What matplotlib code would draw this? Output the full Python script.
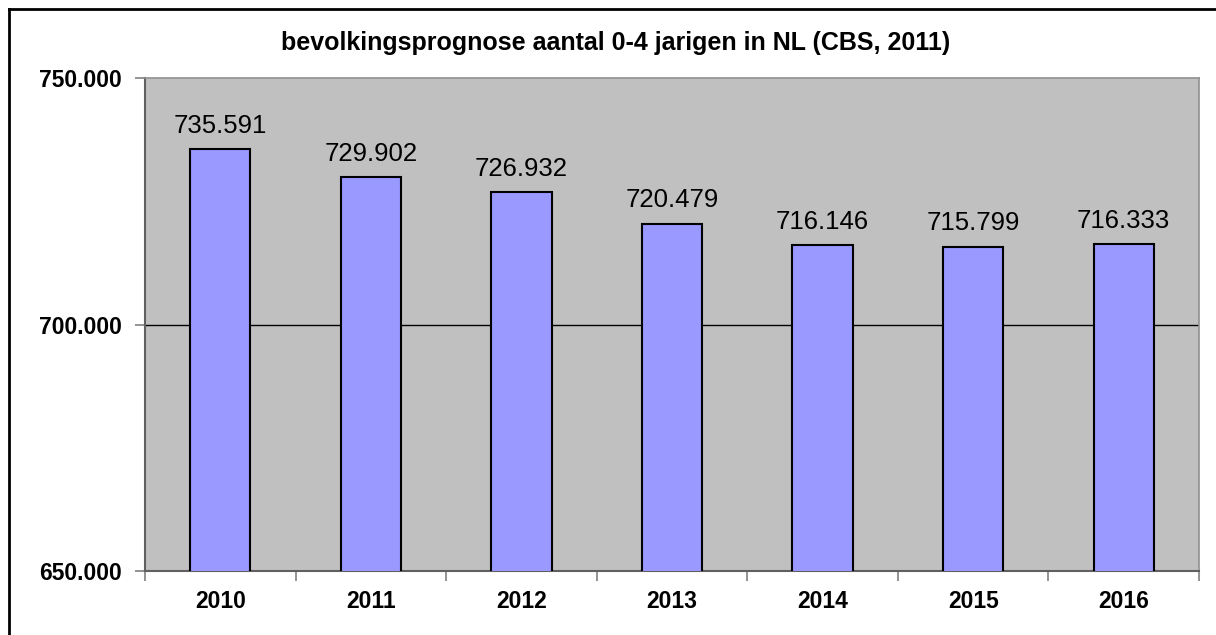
import matplotlib
matplotlib.use("Agg")
import matplotlib.pyplot as plt
from matplotlib.lines import Line2D
import numpy as np

years = ["2010", "2011", "2012", "2013", "2014", "2015", "2016"]
values = [735591, 729902, 726932, 720479, 716146, 715799, 716333]
labels = ["735.591", "729.902", "726.932", "720.479", "716.146", "715.799", "716.333"]
yticks = [650000, 700000, 750000]
ytick_labels = ["650.000", "700.000", "750.000"]
title = "bevolkingsprognose aantal 0-4 jarigen in NL (CBS, 2011)"

plt.rcParams['font.family'] = ['Liberation Sans', 'DejaVu Sans']

fig = plt.figure(figsize=(12.16, 6.35), dpi=100)
fig.patch.set_facecolor('white')
ax = fig.add_axes([145/1216, 1-571/635, (1199-145)/1216, (571-78)/635])
ax.set_facecolor('#C0C0C0')

x = np.arange(len(years))
ax.bar(x, values, width=0.4, color='#9999FF', edgecolor='black', linewidth=1.5, zorder=3)
ax.axhline(700000, color='black', linewidth=1, zorder=2)

for xi, v, lab in zip(x, values, labels):
    ax.annotate(lab, (xi, v), xytext=(0, 8), textcoords='offset points',
                ha='center', va='bottom', fontsize=18.5, zorder=4)

ax.set_xlim(-0.5, len(years) - 0.5)
ax.set_ylim(650000, 750000)
ax.set_yticks(yticks)
ax.set_yticklabels(ytick_labels, fontsize=16.5, fontweight='bold')
ax.set_xticks(x)
ax.set_xticklabels(years, fontsize=16.5, fontweight='bold')
ax.tick_params(axis='x', length=0, pad=14)
ax.set_xticks(np.arange(len(years) + 1) - 0.5, minor=True)
ax.tick_params(axis='x', which='minor', length=7, color='#808080', width=1.2)
ax.tick_params(axis='y', length=7, color='#808080', width=1.2, pad=10)

for s in ['left', 'bottom']:
    ax.spines[s].set_color('#606060')
    ax.spines[s].set_linewidth(1.5)
for s in ['top', 'right']:
    ax.spines[s].set_color('#909090')
    ax.spines[s].set_linewidth(1.2)

fig.text(616/1216, 1-43/635, title, ha='center', va='center', fontsize=18, fontweight='bold')

# outer chart border (left and top visible)
fig.add_artist(Line2D([9/1216, 9/1216], [0, 1-9/635], color='black', linewidth=2, transform=fig.transFigure))
fig.add_artist(Line2D([9/1216, 1], [1-9/635, 1-9/635], color='black', linewidth=2, transform=fig.transFigure))

fig.savefig("out.png", dpi=100)
